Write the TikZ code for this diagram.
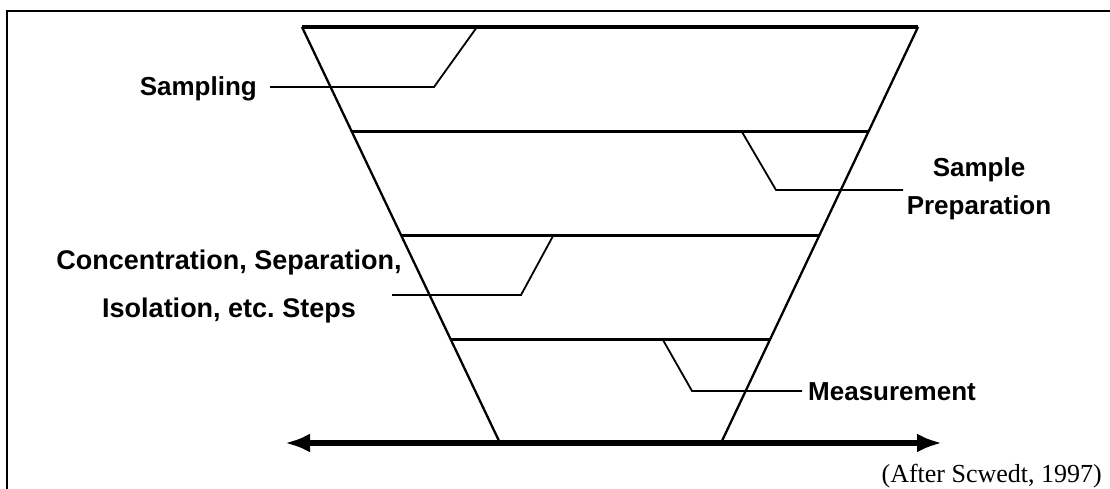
\documentclass[tikz,border=0pt]{standalone}
\usepackage{fontspec}
\newfontfamily\labfont{Liberation Sans}
\newfontfamily\srcfont{Liberation Serif}
\usetikzlibrary{arrows.meta,calc}
\begin{document}
\begin{tikzpicture}[x=1pt,y=-1pt,
  band/.style={line width=3pt},
  edge/.style={line width=2.3pt},
  leader/.style={line width=1.8pt},
  lab/.style={inner sep=0pt,font=\labfont\bfseries\fontsize{26}{38}\selectfont,align=center},
  src/.style={inner sep=0pt,font=\srcfont\fontsize{26}{30}\selectfont}]
\useasboundingbox (0,0) rectangle (1110,489);
% frame
\draw[line width=1.4pt] (7,489) -- (7,11) -- (1110,11);
% funnel corners
\coordinate (TL) at (302,27);
\coordinate (TR) at (918,27);
\coordinate (BL) at (500,443);
\coordinate (BR) at (721,443);
\draw[edge] (TL) -- (BL);
\draw[edge] (TR) -- (BR);
\draw[line width=3.4pt] (TL) -- (TR);
% bands
\coordinate (L1) at ($(TL)!0.2524!(BL)$);
\coordinate (R1) at ($(TR)!0.2524!(BR)$);
\coordinate (L2) at ($(TL)!0.5024!(BL)$);
\coordinate (R2) at ($(TR)!0.5024!(BR)$);
\coordinate (L3) at ($(TL)!0.7524!(BL)$);
\coordinate (R3) at ($(TR)!0.7524!(BR)$);
\draw[band] (L1) -- (R1);
\draw[band] (L2) -- (R2);
\draw[band] (L3) -- (R3);
% arrow
\coordinate (AL) at (285,443);
\coordinate (AR) at (942,443);
\draw[line width=5.5pt,{Latex[length=25pt,width=19pt]}-{Latex[length=25pt,width=19pt]}] (AL) -- (AR);
% labels
\node[lab,anchor=base east] (samp) at (257,96) {Sampling};
\node[lab] (prep) at (979,189) {Sample\\Preparation};
\node[lab,font=\labfont\bfseries\fontsize{27}{48}\selectfont] (conc) at (229,287) {Concentration, Separation,\\Isolation, etc.\ Steps};
\node[lab,anchor=base west] (meas) at (808,400) {Measurement};
\node[src,anchor=base east] (cite) at (1102,482) {(After Scwedt, 1997)};
% leaders
\coordinate (s1) at (477,27);
\coordinate (s2) at (434,87);
\coordinate (s3) at (270,87);
\draw[leader] (s1) -- (s2) -- (s3);
\coordinate (p1) at (742,132);
\coordinate (p2) at (776,190);
\coordinate (p3) at (903,190);
\draw[leader] (p1) -- (p2) -- (p3);
\coordinate (c1) at (553,236);
\coordinate (c2) at (521,295);
\coordinate (c3) at (392,295);
\draw[leader] (c1) -- (c2) -- (c3);
\coordinate (m1) at (663,340);
\coordinate (m2) at (692,391);
\coordinate (m3) at (802,391);
\draw[leader] (m1) -- (m2) -- (m3);
\end{tikzpicture}
\end{document}
